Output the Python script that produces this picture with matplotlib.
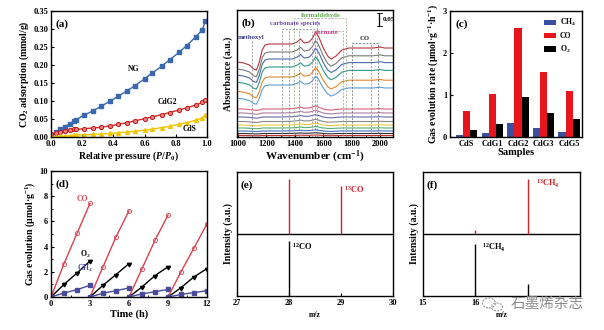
import numpy as np
import matplotlib
matplotlib.use('Agg')
import matplotlib.pyplot as plt
from matplotlib.patches import Ellipse
from matplotlib.ticker import MultipleLocator

plt.rcParams['font.family'] = 'serif'
plt.rcParams['font.serif'] = ['Liberation Serif', 'DejaVu Serif']
plt.rcParams['font.weight'] = 'bold'
plt.rcParams['axes.labelweight'] = 'bold'
plt.rcParams['mathtext.fontset'] = 'custom'
plt.rcParams['mathtext.rm'] = 'Liberation Serif:bold'
plt.rcParams['mathtext.it'] = 'Liberation Serif:italic:bold'
plt.rcParams['mathtext.bf'] = 'Liberation Serif:bold'
plt.rcParams['mathtext.default'] = 'rm'
plt.rcParams['axes.linewidth'] = 1.0

# (a) CO2 adsorption isotherms
pressure = [0.0, 0.03, 0.06, 0.09, 0.12, 0.15, 0.16, 0.21, 0.27, 0.32, 0.38, 0.43,
            0.49, 0.54, 0.60, 0.65, 0.71, 0.76, 0.82, 0.87, 0.93, 0.97, 0.99]
ads_ng = [0.005, 0.013, 0.021, 0.029, 0.037, 0.045, 0.048, 0.060, 0.073, 0.085, 0.100, 0.113,
          0.129, 0.143, 0.162, 0.178, 0.197, 0.214, 0.235, 0.254, 0.279, 0.298, 0.322]
ads_cdg2 = [0.008, 0.011, 0.014, 0.017, 0.019, 0.021, 0.021, 0.023, 0.025, 0.027, 0.031, 0.035,
            0.040, 0.045, 0.051, 0.056, 0.062, 0.068, 0.075, 0.081, 0.089, 0.096, 0.102]
ads_cds = [0.0, 0.001, 0.002, 0.003, 0.004, 0.005, 0.005, 0.006, 0.007, 0.008, 0.010, 0.012,
           0.014, 0.016, 0.019, 0.022, 0.026, 0.030, 0.035, 0.040, 0.047, 0.053, 0.060]

# (b) in-situ FTIR, difference profiles
wavenumber = [1000, 1040, 1080, 1110, 1130, 1150, 1170, 1190, 1220, 1300, 1380, 1415, 1440, 1465,
              1500, 1525, 1545, 1565, 1600, 1630, 1655, 1690, 1730, 1780, 1850, 1950, 2000, 2030, 2090]
profile_high = [-18, -19, -21, -25, -26, -18, -6, -1, 0, 0, 0, 2, 5, 1,
                2, 6, 12, 8, -4, -12, -15, -12, -6, -4, -4, -4, -3, -4, -4]
profile_low = [0, 0, -0.5, -1, -1.5, -1, 0, 0, 0, 0, 0.3, 1, 2, 0.8,
               1, 2, 3, 2, 0, -0.8, -1, -0.5, 0, 0, 0, 0, 0.4, 0, 0]
high_levels = [93, 85, 78, 70, 60, 52]
high_scales = [1.0, 0.95, 0.9, 0.85, 0.8, 0.74]
high_colors = ['#b5343c', '#7a7a7a', '#4a6aa8', '#2f9a86', '#e0892a', '#5c9fd0']
low_levels = [28, 24, 20, 15.5, 12, 9, 6, 3.5, 1.5]
low_scales = [1.0, 0.9, 0.8, 0.7, 0.6, 0.5, 0.4, 0.3, 0.2]
low_colors = ['#d9607a', '#b07aa0', '#6a6ab0', '#8a8a8a', '#e8c840', '#50b070',
              '#4070c0', '#303030', '#c03030']

# (c) gas evolution rates
samples = ['CdS', 'CdG1', 'CdG2', 'CdG3', 'CdG5']
rate_ch4 = [0.05, 0.10, 0.33, 0.21, 0.13]
rate_co = [0.63, 1.03, 2.60, 1.55, 1.10]
rate_o2 = [0.17, 0.30, 0.96, 0.58, 0.42]

# (d) cycling test
cycle_time = [[0, 1, 2, 3], [3, 4, 5, 6], [6, 7, 8, 9], [9, 10, 11, 12]]
evo_co = [[0, 2.65, 5.04, 7.43], [0, 2.4, 4.77, 6.84], [0, 2.25, 4.5, 6.5], [0, 2.0, 3.9, 5.8]]
evo_o2 = [[0, 1.0, 1.9, 2.86], [0, 0.93, 1.78, 2.65], [0, 0.8, 1.7, 2.4], [0, 0.74, 1.6, 2.25]]
evo_ch4 = [[0, 0.32, 0.58, 0.93], [0, 0.3, 0.5, 0.72], [0, 0.25, 0.42, 0.6], [0, 0.2, 0.35, 0.5]]

# (e), (f) isotope mass spectra (peak heights above each baseline)
e_mz_13 = [28, 29]
e_int_13 = [0.44, 0.39]
e_mz_12 = [28]
e_int_12 = [0.44]
f_mz_13 = [16, 17]
f_int_13 = [0.03, 0.44]
f_mz_12 = [16, 17]
f_int_12 = [0.42, 0.10]

W, H = 604, 330
fig = plt.figure(figsize=(6.04, 3.30), dpi=100)


def box(l, r, t, b):
    return [l / W, 1 - b / H, (r - l) / W, (b - t) / H]


def style(ax):
    ax.tick_params(direction='in', labelsize=6, length=2.5, width=0.8, pad=2)
    ax.tick_params(which='minor', direction='in', length=1.5, width=0.6)


LAB = 7

# ---- (a)
ax = fig.add_axes(box(51, 207, 11, 137))
ax.plot(pressure, ads_ng, '-s', color='#3a68b0', ms=2.6, lw=1.0)
ax.plot(pressure, ads_cdg2, '-o', color='#d42a2a', mfc='#f08080', mec='#c01818', ms=3.0, mew=0.7, lw=1.0)
ax.plot(pressure, ads_cds, '-^', color='#f2c500', ms=2.8, lw=1.0)
ax.set_xlim(0, 1.0)
ax.set_ylim(0, 0.35)
ax.set_xticks([0.0, 0.2, 0.4, 0.6, 0.8, 1.0])
ax.set_yticks([0.0, 0.05, 0.10, 0.15, 0.20, 0.25, 0.30, 0.35])
ax.xaxis.set_major_formatter(matplotlib.ticker.FormatStrFormatter('%.1f'))
ax.yaxis.set_major_formatter(matplotlib.ticker.FormatStrFormatter('%.2f'))
style(ax)
ax.set_xlabel(r'Relative pressure ($\mathit{P}$/$\mathit{P}_0$)', fontsize=LAB, labelpad=1)
ax.set_ylabel(r'CO$_2$ adsorption (mmol/g)', fontsize=LAB, labelpad=2)
ax.text(0.03, 0.93, '(a)', transform=ax.transAxes, fontsize=8, va='top')
ax.text(0.53, 0.19, 'NG', fontsize=5.5, ha='center', va='center')
ax.text(0.745, 0.097, 'CdG2', fontsize=5.5, ha='center', va='center')
ax.text(0.89, 0.022, 'CdS', fontsize=5.5, ha='center', va='center')

# ---- (b)
ax = fig.add_axes(box(237, 393, 10, 137))
wn = np.array(wavenumber)
for lev, sc, col in zip(high_levels, high_scales, high_colors):
    ax.plot(wn, lev + sc * np.array(profile_high), color=col, lw=0.8)
for lev, sc, col in zip(low_levels, low_scales, low_colors):
    ax.plot(wn, lev + sc * np.array(profile_low), color=col, lw=0.8)
dash = (0, (3, 2))
boxes = [(1310, 1545, 108, '#808080'), (1395, 1760, 119, '#90a880'),
         (1520, 1740, 106, '#b08898'), (1800, 1985, 94, '#606060')]
for l, r, t, c in boxes:
    ax.plot([l, l, r, r], [0, t, t, 0], color=c, lw=0.5, ls=dash)
for x, t in [(1100, 96), (1360, 108), (1430, 108), (1555, 119), (1935, 94)]:
    ax.plot([x, x], [0, t], color='#808080', lw=0.5, ls=dash)
ax.text(1095, 100, 'methoxyl', color='#3a3a8a', fontsize=4.8, ha='center', va='center')
ax.text(1400, 113, 'carbonate species', color='#6a4aa0', fontsize=4.8, ha='center', va='center')
ax.text(1580, 122, 'formaldehyde', color='#5aaa46', fontsize=4.8, ha='center', va='center')
ax.text(1628, 104, 'formate', color='#c04080', fontsize=4.8, ha='center', va='center')
ax.text(1892, 98, 'CO', color='#303030', fontsize=4.8, ha='center', va='center')
ax.plot([1995, 1995], [111, 124], color='k', lw=0.9)
ax.plot([1980, 2010], [124, 124], color='k', lw=0.6)
ax.plot([1980, 2010], [111, 111], color='k', lw=0.6)
ax.text(2015, 117.5, '0.05', fontsize=5, va='center')
ax.set_xlim(993, 2090)
ax.set_ylim(0, 127)
ax.set_yticks([])
ax.set_xticks([1000, 1200, 1400, 1600, 1800, 2000])
ax.xaxis.set_minor_locator(MultipleLocator(100))
style(ax)
ax.set_xlabel('Wavenumber (cm$^{-1}$)', fontsize=8, labelpad=1)
ax.set_ylabel('Absorbance (a.u.)', fontsize=LAB, labelpad=3)
ax.text(0.03, 0.93, '(b)', transform=ax.transAxes, fontsize=8, va='top')

# ---- (c)
ax = fig.add_axes(box(450, 582, 11, 137))
xs = np.arange(len(samples))
bw = 0.28
ax.bar(xs - bw, rate_ch4, bw, color='#3b4fa0', label='CH$_4$')
ax.bar(xs, rate_co, bw, color='#e8141e', label='CO')
ax.bar(xs + bw, rate_o2, bw, color='#000000', label='O$_2$')
ax.set_xlim(-0.65, 4.5)
ax.set_ylim(0, 3)
ax.set_xticks(xs)
ax.set_xticklabels(samples)
ax.set_yticks([0, 1, 2, 3])
style(ax)
ax.tick_params(axis='x', length=0)
ax.set_xlabel('Samples', fontsize=7.5, labelpad=0)
ax.set_ylabel('Gas evolution rate (μmol·g$^{-1}$·h$^{-1}$)', fontsize=7, labelpad=2)
ax.text(0.04, 0.93, '(c)', transform=ax.transAxes, fontsize=8, va='top')
ax.legend(loc='upper right', fontsize=5.5, frameon=False, handlelength=1.6, handleheight=0.8,
          handletextpad=0.5, labelspacing=0.5, borderaxespad=0.4)

# ---- (d)
ax = fig.add_axes(box(51, 207, 171, 297))
for i in range(len(cycle_time)):
    ax.plot(cycle_time[i], evo_co[i], '-o', color='#d9434f', mfc='none', ms=3, mew=0.6, lw=1.0)
    ax.plot(cycle_time[i], evo_o2[i], '-', color='k', marker=(3, 0, -60), ms=3.4, lw=1.0)
    ax.plot(cycle_time[i], evo_ch4[i], '-s', color='#4a4a9a', ms=2.2, lw=1.0)
ax.set_xlim(0, 12)
ax.set_ylim(0, 10)
ax.set_xticks([0, 3, 6, 9, 12])
ax.set_yticks([0, 2, 4, 6, 8, 10])
ax.xaxis.set_minor_locator(MultipleLocator(1.5))
ax.yaxis.set_minor_locator(MultipleLocator(1))
style(ax)
ax.set_xlabel('Time (h)', fontsize=7.5, labelpad=1)
ax.set_ylabel('Gas evolution (μmol·g$^{-1}$)', fontsize=LAB, labelpad=2)
ax.text(0.03, 0.93, '(d)', transform=ax.transAxes, fontsize=8, va='top')
ax.text(2.4, 7.8, 'CO', color='#d9434f', fontsize=5.5, ha='center', va='center')
ax.text(2.6, 3.35, 'O$_2$', color='k', fontsize=5.5, ha='center', va='center')
ax.text(2.6, 2.3, 'CH$_4$', color='#4a4a9a', fontsize=5.5, ha='center', va='center')

# ---- (e)
ax = fig.add_axes(box(237, 393, 172, 296))
ax.axhline(0.5, color='k', lw=1.0)
ax.vlines(e_mz_13, 0.5, 0.5 + np.array(e_int_13), color='#d0202a', lw=1.0)
ax.vlines(e_mz_12, 0, e_int_12, color='k', lw=1.0)
ax.set_xlim(27, 30)
ax.set_ylim(0, 1)
ax.set_xticks([27, 28, 29, 30])
ax.set_yticks([])
style(ax)
ax.set_xlabel('m/z', fontsize=5.5, labelpad=3)
ax.set_ylabel('Intensity (a.u.)', fontsize=LAB, labelpad=3)
ax.text(0.025, 0.93, '(e)', transform=ax.transAxes, fontsize=8, va='top')
ax.text(29.05, 0.86, '$^{13}$CO', color='#d0202a', fontsize=6, va='center')
ax.text(28.05, 0.40, '$^{12}$CO', color='k', fontsize=6, va='center')

# ---- (f)
ax = fig.add_axes(box(423, 580, 172, 296))
ax.axhline(0.5, color='k', lw=1.0)
ax.vlines(f_mz_13, 0.5, 0.5 + np.array(f_int_13), color='#d0202a', lw=1.0)
ax.vlines(f_mz_12, 0, f_int_12, color='k', lw=1.0)
ax.set_xlim(15, 18)
ax.set_ylim(0, 1)
ax.set_xticks([15, 16, 17, 18])
ax.set_xticklabels(['15', '16', '', ''])
ax.set_yticks([])
style(ax)
ax.set_xlabel('m/z', fontsize=5.5, labelpad=3)
ax.set_ylabel('Intensity (a.u.)', fontsize=LAB, labelpad=3)
ax.text(0.025, 0.93, '(f)', transform=ax.transAxes, fontsize=8, va='top')
ax.text(17.15, 0.90, '$^{13}$CH$_4$', color='#d0202a', fontsize=6, va='center')
ax.text(16.12, 0.39, '$^{12}$CH$_4$', color='k', fontsize=6, va='center')

# watermark
for cx, cy, w, h in [(489, 303, 13, 10), (497, 307, 11, 8)]:
    fig.patches.append(Ellipse((cx / W, 1 - cy / H), w / W, h / H, transform=fig.transFigure,
                               fill=False, ec='#9a9a9a', lw=0.8, ls=(0, (2, 1))))
fig.text(547 / W, 1 - 304 / H, '石墨烯杂志', family=['Noto Sans CJK SC', 'DejaVu Sans'],
         fontsize=10.5, color='#8c8c8c', ha='center', va='center', weight='normal')

fig.savefig('out.png', dpi=100, facecolor='white')
